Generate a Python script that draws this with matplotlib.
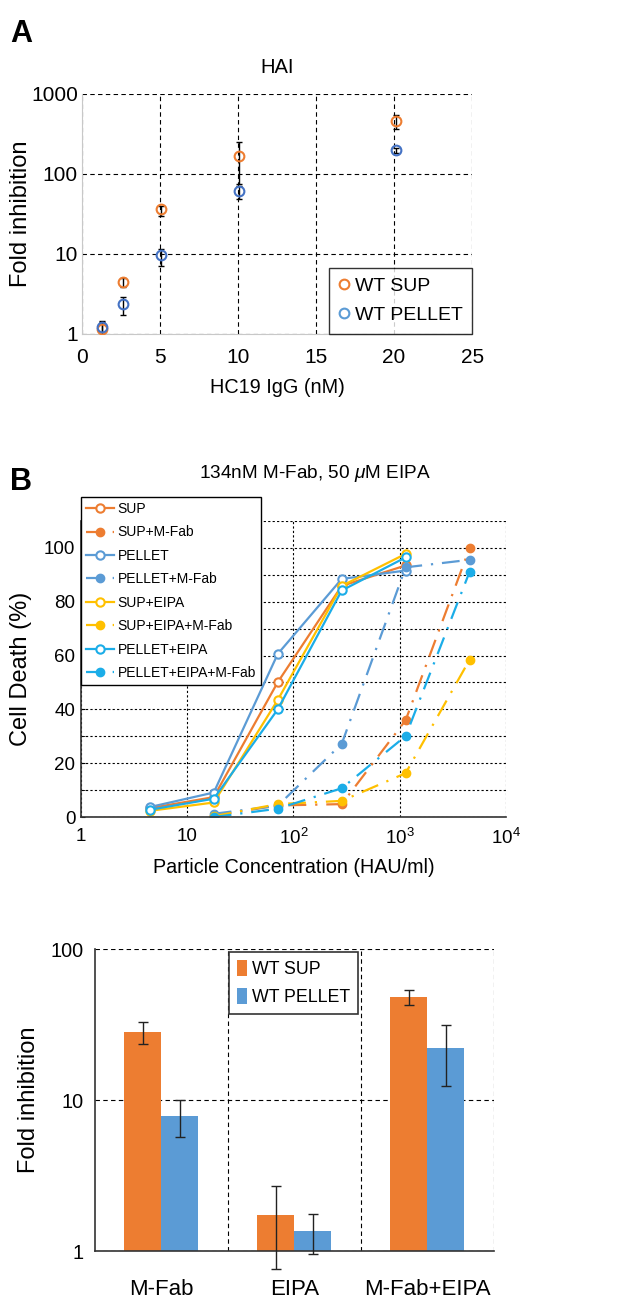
import numpy as np
import matplotlib
matplotlib.use('Agg')
import matplotlib.pyplot as plt
from matplotlib.ticker import FixedLocator, FixedFormatter, NullLocator

plt.rcParams['font.family'] = ['Liberation Sans', 'DejaVu Sans']
plt.rcParams['mathtext.fontset'] = 'custom'
plt.rcParams['mathtext.it'] = 'Liberation Sans:italic'
plt.rcParams['mathtext.rm'] = 'Liberation Sans'

ORANGE = '#ED7D31'
BLUE = '#5B9BD5'
DBLUE = '#4472C4'
YELLOW = '#FFC000'
CYAN = '#1BADE8'

# ---- panel A: HAI
hai_x_sup = [1.3, 2.6, 5.05, 10.05, 20.1]
hai_x_pel = [1.3, 2.6, 5.05, 10.05, 20.1]
hai_sup = [1.17, 4.5, 36, 166, 460]
hai_sup_lo = [0.9, 3.9, 30, 75, 360]
hai_sup_hi = [1.4, 5.0, 40, 250, 550]
hai_pel = [1.21, 2.4, 9.6, 61, 198]
hai_pel_lo = [0.9, 1.75, 7.0, 48, 185]
hai_pel_hi = [1.45, 2.9, 11.5, 70, 210]

# ---- panel B: cell death
conc = [4.45, 17.8, 71.2, 285, 1139, 4557]
curves = {
    'SUP':               [3.3, 7.4, 50.1, 85.9, 93.5, None],
    'SUP+M-Fab':         [None, 0.5, 4.3, 4.8, 36, 100],
    'PELLET':            [3.7, 9.1, 60.6, 88.5, 91.6, None],
    'PELLET+M-Fab':      [None, 1.2, 4.2, 27.2, 92.8, 95.6],
    'SUP+EIPA':          [2.3, 5.4, 43.5, 85.9, 97.8, None],
    'SUP+EIPA+M-Fab':    [None, 0.3, 4.8, 6.0, 16.3, 58.5],
    'PELLET+EIPA':       [2.7, 6.8, 40, 84.2, 96.5, None],
    'PELLET+EIPA+M-Fab': [None, 0.0, 3.1, 10.7, 30.1, 91.2],
}
curve_colors = [ORANGE, ORANGE, BLUE, BLUE, YELLOW, YELLOW, CYAN, CYAN]
curve_filled = [False, True, False, True, False, True, False, True]

# ---- panel C: fold inhibition bars
groups = ['M-Fab', 'EIPA', 'M-Fab+EIPA']
bar_sup = [28.2, 1.72, 48.1]
bar_sup_lo = [23.4, 0.76, 42.6]
bar_sup_hi = [32.7, 2.68, 53.5]
bar_pel = [7.9, 1.35, 22.0]
bar_pel_lo = [5.7, 0.955, 12.4]
bar_pel_hi = [10.0, 1.76, 31.2]

fig = plt.figure(figsize=(6.32, 13.01), dpi=100)

# ================= A
ax = fig.add_axes([0.130, 0.7433, 0.617, 0.1845])
ax.set_yscale('log')
for x, y, lo, hi in [(hai_x_sup, hai_sup, hai_sup_lo, hai_sup_hi),
                     (hai_x_pel, hai_pel, hai_pel_lo, hai_pel_hi)]:
    y = np.array(y)
    err = [y - np.array(lo), np.array(hi) - y]
    ax.errorbar(x, y, yerr=err, fmt='none', ecolor='black', elinewidth=1, capsize=2, zorder=2)
for x, y, c, lab in [(hai_x_sup, hai_sup, ORANGE, 'WT SUP'), (hai_x_pel, hai_pel, DBLUE, 'WT PELLET')]:
    ax.plot(x, y, 'o', mfc='none', mec=c, mew=1.5, ms=7, label=lab, zorder=3)
ax.set_xlim(0, 25)
ax.set_ylim(1, 1000)
ax.set_xticks([0, 5, 10, 15, 20, 25])
ax.set_yticks([1, 10, 100, 1000])
ax.set_yticklabels(['1', '10', '100', '1000'])
ax.yaxis.set_minor_locator(NullLocator())
ax.tick_params(length=0, labelsize=15)
ax.tick_params(axis='x', pad=10)
ax.tick_params(axis='y', pad=3)
ax.grid(True, ls=(0, (4, 3)), color='black', lw=0.8)
for s in ['top', 'right']:
    ax.spines[s].set_visible(False)
for s in ['left', 'bottom']:
    ax.spines[s].set_color('#c8c8c8')
ax.set_xlabel('HC19 IgG (nM)', fontsize=14.3, labelpad=8)
ax.set_ylabel('Fold inhibition', fontsize=17)
ax.yaxis.set_label_coords(-0.128, 0.5)
ax.set_title('HAI', fontsize=14.5, pad=15)
leg = ax.legend(loc='lower right', fontsize=14, frameon=True, fancybox=False,
                handlelength=0.5, handletextpad=0.3, borderaxespad=0, borderpad=0.5,
                labelspacing=0.6)
leg.get_frame().set_edgecolor('black')
leg.get_frame().set_linewidth(1)
leg.legend_handles[1].set_markeredgecolor(BLUE)
fig.text(0.016, 0.968, 'A', fontsize=22, fontweight='bold')

# ================= B
ax = fig.add_axes([0.128, 0.372, 0.6725, 0.2275])
ax.set_xscale('log')
for (name, ys), c, filled in zip(curves.items(), curve_colors, curve_filled):
    xs = [x for x, y in zip(conc, ys) if y is not None]
    yv = [y for y in ys if y is not None]
    if filled:
        ax.plot(xs, yv, ls=(0, (8, 4, 1, 4)), color=c, lw=1.6, marker='o', ms=6,
                mfc=c, mec=c, label=name)
    else:
        ax.plot(xs, yv, ls='-', color=c, lw=1.6, marker='o', ms=6,
                mfc='white', mec=c, mew=1.5, label=name)
ax.set_xlim(1, 1e4)
ax.set_ylim(0, 110)
ax.xaxis.set_major_locator(FixedLocator([1, 10, 100, 1000, 10000]))
ax.xaxis.set_major_formatter(FixedFormatter(['1', '10', '$10^2$', '$10^3$', '$10^4$']))
ax.xaxis.set_minor_locator(NullLocator())
ax.set_yticks([0, 20, 40, 60, 80, 100])
ax.set_yticks([10, 30, 50, 70, 90, 110], minor=True)
ax.tick_params(which='both', direction='in', length=3, labelsize=13.5, pad=4)
ax.tick_params(axis='x', length=0, pad=8)
ax.grid(True, which='both', ls=(0, (2, 2)), color='black', lw=0.8)
for s in ['top', 'right']:
    ax.spines[s].set_visible(False)
for s in ['left', 'bottom']:
    ax.spines[s].set_color('#333333')
    ax.spines[s].set_linewidth(1.2)
ax.set_xlabel('Particle Concentration (HAU/ml)', fontsize=14.2, labelpad=7)
ax.set_ylabel('Cell Death (%)', fontsize=17)
ax.yaxis.set_label_coords(-0.115, 0.5)
ax.text(0.55, 1.162, r'134nM M-Fab, 50 $\mu$M EIPA', transform=ax.transAxes,
        ha='center', va='center', fontsize=13.7)
leg = ax.legend(loc='upper left', bbox_to_anchor=(0.0, 1.081), fontsize=10,
                frameon=True, fancybox=False, handlelength=2.0, handletextpad=0.3,
                borderpad=0.35, labelspacing=0.68, borderaxespad=0)
leg.get_frame().set_edgecolor('black')
leg.get_frame().set_linewidth(1)
leg.get_frame().set_alpha(1)
leg.set_zorder(10)
fig.text(0.016, 0.623, 'B', fontsize=22, fontweight='bold')

# ================= C
ax = fig.add_axes([0.150, 0.0384, 0.631, 0.2321])
ax.set_yscale('log')
xg = np.arange(len(groups))
w = 0.28
sup = np.array(bar_sup)
pel = np.array(bar_pel)
ax.bar(xg - w / 2, sup - 1, w, bottom=1, color=ORANGE, label='WT SUP', zorder=2)
ax.bar(xg + w / 2, pel - 1, w, bottom=1, color=BLUE, label='WT PELLET', zorder=2)
ax.errorbar(xg - w / 2, sup, yerr=[sup - np.array(bar_sup_lo), np.array(bar_sup_hi) - sup],
            fmt='none', ecolor='#222222', elinewidth=1, capsize=3.5, zorder=3, clip_on=False)
ax.errorbar(xg + w / 2, pel, yerr=[pel - np.array(bar_pel_lo), np.array(bar_pel_hi) - pel],
            fmt='none', ecolor='#222222', elinewidth=1, capsize=3.5, zorder=3, clip_on=False)
ax.set_xlim(-0.5, 2.5)
ax.set_ylim(1, 100)
ax.set_yticks([1, 10, 100])
ax.set_yticklabels(['1', '10', '100'])
ax.yaxis.set_minor_locator(NullLocator())
ax.set_xticks(xg)
ax.set_xticklabels(groups)
ax.set_xticks([0.5, 1.5, 2.5], minor=True)
ax.tick_params(which='both', length=0)
ax.tick_params(axis='y', labelsize=14.3, pad=8)
ax.tick_params(axis='x', labelsize=16, pad=20)
ax.grid(True, axis='y', ls=(0, (4, 3)), color='black', lw=0.8, zorder=0)
ax.grid(True, axis='x', which='minor', ls=(0, (4, 3)), color='black', lw=0.8, zorder=0)
ax.set_axisbelow(True)
for s in ['top', 'right']:
    ax.spines[s].set_visible(False)
for s in ['left', 'bottom']:
    ax.spines[s].set_color('#333333')
    ax.spines[s].set_linewidth(1.2)
ax.set_ylabel('Fold inhibition', fontsize=17)
ax.yaxis.set_label_coords(-0.138, 0.5)
leg = ax.legend(loc='upper center', bbox_to_anchor=(0.4979, 0.99), fontsize=12.8,
                frameon=True, fancybox=False, handlelength=0.6, handleheight=1.0,
                handletextpad=0.25, borderpad=0.45, labelspacing=0.55, borderaxespad=0)
leg.get_frame().set_edgecolor('#333333')
leg.get_frame().set_linewidth(1.2)
leg.get_frame().set_alpha(1)

fig.savefig('out.png', dpi=100)
